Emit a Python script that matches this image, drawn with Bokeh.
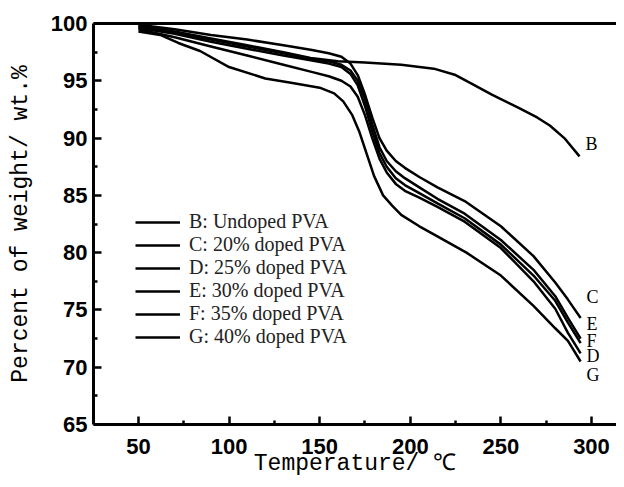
from bokeh.plotting import figure
from bokeh.models import Range1d, LinearAxis, FixedTicker, Legend, LegendItem, ColumnDataSource
from bokeh.core.properties import value
from bokeh.embed import file_html
from bokeh.resources import INLINE

# ---- data ----
temp_B = [50, 70, 90, 110, 130, 145, 160, 175, 195, 213, 225, 232, 245, 259, 270, 277, 285, 293.4]
wt_B = [99.8, 99.3, 98.7, 98.1, 97.5, 97.0, 96.7, 96.6, 96.4, 96.06, 95.5, 94.9, 93.8, 92.7, 91.8, 91.1, 90.0, 88.4]

temp_CEFD = [50, 70, 90, 110, 130, 145, 155, 162, 167, 171, 175, 179, 183, 187, 192, 197, 205, 215, 230, 250, 268, 280, 287, 294]
wt_C = [99.9, 99.5, 99.0, 98.6, 98.1, 97.7, 97.4, 97.1, 96.5, 95.5, 93.8, 91.8, 90.0, 88.9, 88.0, 87.4, 86.6, 85.7, 84.5, 82.3, 79.7, 77.4, 75.9, 74.3]
wt_E = [99.7, 99.2, 98.6, 98.0, 97.4, 96.9, 96.7, 96.4, 95.9, 95.0, 93.4, 91.2, 89.2, 88.0, 87.1, 86.5, 85.7, 84.7, 83.4, 81.1, 78.5, 76.2, 74.3, 72.5]
wt_F = [99.6, 99.1, 98.4, 97.8, 97.2, 96.8, 96.5, 96.2, 95.6, 94.6, 92.8, 90.6, 88.7, 87.5, 86.5, 85.9, 85.2, 84.3, 83.0, 80.7, 78.0, 75.8, 73.9, 72.1]
wt_D = [99.5, 98.8, 98.0, 97.2, 96.4, 95.8, 95.4, 95.0, 94.5, 93.6, 92.0, 90.0, 88.2, 87.0, 86.0, 85.4, 84.8, 84.0, 82.7, 80.4, 77.5, 75.1, 73.0, 71.2]

temp_G = [50, 62, 72, 84, 100, 120, 135, 150, 158, 163, 168, 172, 176, 180, 185, 190, 195, 205, 213, 231, 250, 268, 280, 287, 294]
wt_G = [99.3, 99.0, 98.3, 97.6, 96.2, 95.2, 94.8, 94.4, 93.9, 93.2, 92.0, 90.5, 88.6, 86.7, 85.0, 84.1, 83.3, 82.3, 81.6, 80.0, 78.0, 75.35, 73.4, 72.3, 70.5]

series_keys = ["B", "C", "D", "E", "F", "G"]
legend_labels = ["B: Undoped PVA", "C: 20% doped PVA", "D: 25% doped PVA",
                 "E: 30% doped PVA", "F: 35% doped PVA", "G: 40% doped PVA"]
x_ticks = [50, 100, 150, 200, 250, 300]
x_minor = [75, 125, 175, 225, 275]
y_ticks = [65, 70, 75, 80, 85, 90, 95, 100]
y_minor = [67.5, 72.5, 77.5, 82.5, 87.5, 92.5, 97.5]

series = {
    "B": (temp_B, wt_B),
    "C": (temp_CEFD, wt_C),
    "D": (temp_CEFD, wt_D),
    "E": (temp_CEFD, wt_E),
    "F": (temp_CEFD, wt_F),
    "G": (temp_G, wt_G),
}

# pixel offsets of end labels relative to curve ends (styling; positive = down)
label_dy = {"B": -12, "C": -21, "E": -15, "F": -2, "D": 3, "G": 14}

p = figure(width=616, height=479, output_backend="svg", toolbar_location=None,
           x_range=Range1d(25.2, 313.8), y_range=Range1d(65, 100),
           min_border_left=93, min_border_right=0, min_border_top=23, min_border_bottom=53)
p.outline_line_color = None
p.grid.visible = False
p.background_fill_color = "white"
p.border_fill_color = "white"

items = []
for key, lab in zip(series_keys, legend_labels):
    xs, ys = series[key]
    r = p.line(xs, ys, line_color="black", line_width=2.5)
    items.append(LegendItem(label=lab, renderers=[r]))

lx = [series[k][0][-1] for k in series_keys]
ly = [series[k][1][-1] for k in series_keys]
src = ColumnDataSource(dict(x=lx, y=ly, t=series_keys, dy=[label_dy[k] for k in series_keys]))
p.text(x="x", y="y", text="t", source=src, x_offset=6, y_offset="dy",
       text_font=value("Liberation Serif"), text_font_size="18px",
       text_align="left", text_baseline="middle", text_color="black")

legend = Legend(items=items, location=(42, 76), glyph_width=45, glyph_height=22,
                label_height=22, spacing=0, padding=0, margin=0, label_standoff=9,
                label_text_font="Liberation Serif", label_text_font_size="20px",
                label_text_color="#222222",
                border_line_color=None, background_fill_alpha=0)
p.add_layout(legend, "center")

for ax in (p.xaxis[0], p.yaxis[0]):
    ax.axis_line_width = 3
    ax.major_tick_line_width = 2.5
    ax.minor_tick_line_width = 2.5
    ax.major_tick_in = 8
    ax.major_tick_out = 0
    ax.minor_tick_in = 4
    ax.minor_tick_out = 0
    ax.major_label_text_font = "Liberation Sans"
    ax.major_label_text_font_style = "bold"
    ax.major_label_text_font_size = "22px"
    ax.major_label_text_color = "black"
    ax.axis_label_text_font = "Liberation Mono"
    ax.axis_label_text_font_style = "normal"
    ax.axis_label_text_font_size = "23px"
    ax.axis_label_text_color = "black"

p.xaxis[0].ticker = FixedTicker(ticks=x_ticks, minor_ticks=x_minor)
p.xaxis[0].major_label_standoff = 14
p.xaxis[0].axis_label = "Temperature/ ℃"
p.xaxis[0].axis_label_standoff = -6

p.yaxis[0].ticker = FixedTicker(ticks=y_ticks, minor_ticks=y_minor)
p.yaxis[0].major_label_standoff = 6
p.yaxis[0].axis_label = "Percent of weight/ wt.%"
p.yaxis[0].axis_label_standoff = 14

top = LinearAxis(ticker=FixedTicker(ticks=[]), axis_line_width=3,
                 major_tick_line_color=None, minor_tick_line_color=None,
                 major_label_text_font_size="0px")
p.add_layout(top, "above")

open("out.html", "w").write(file_html(p, INLINE))
